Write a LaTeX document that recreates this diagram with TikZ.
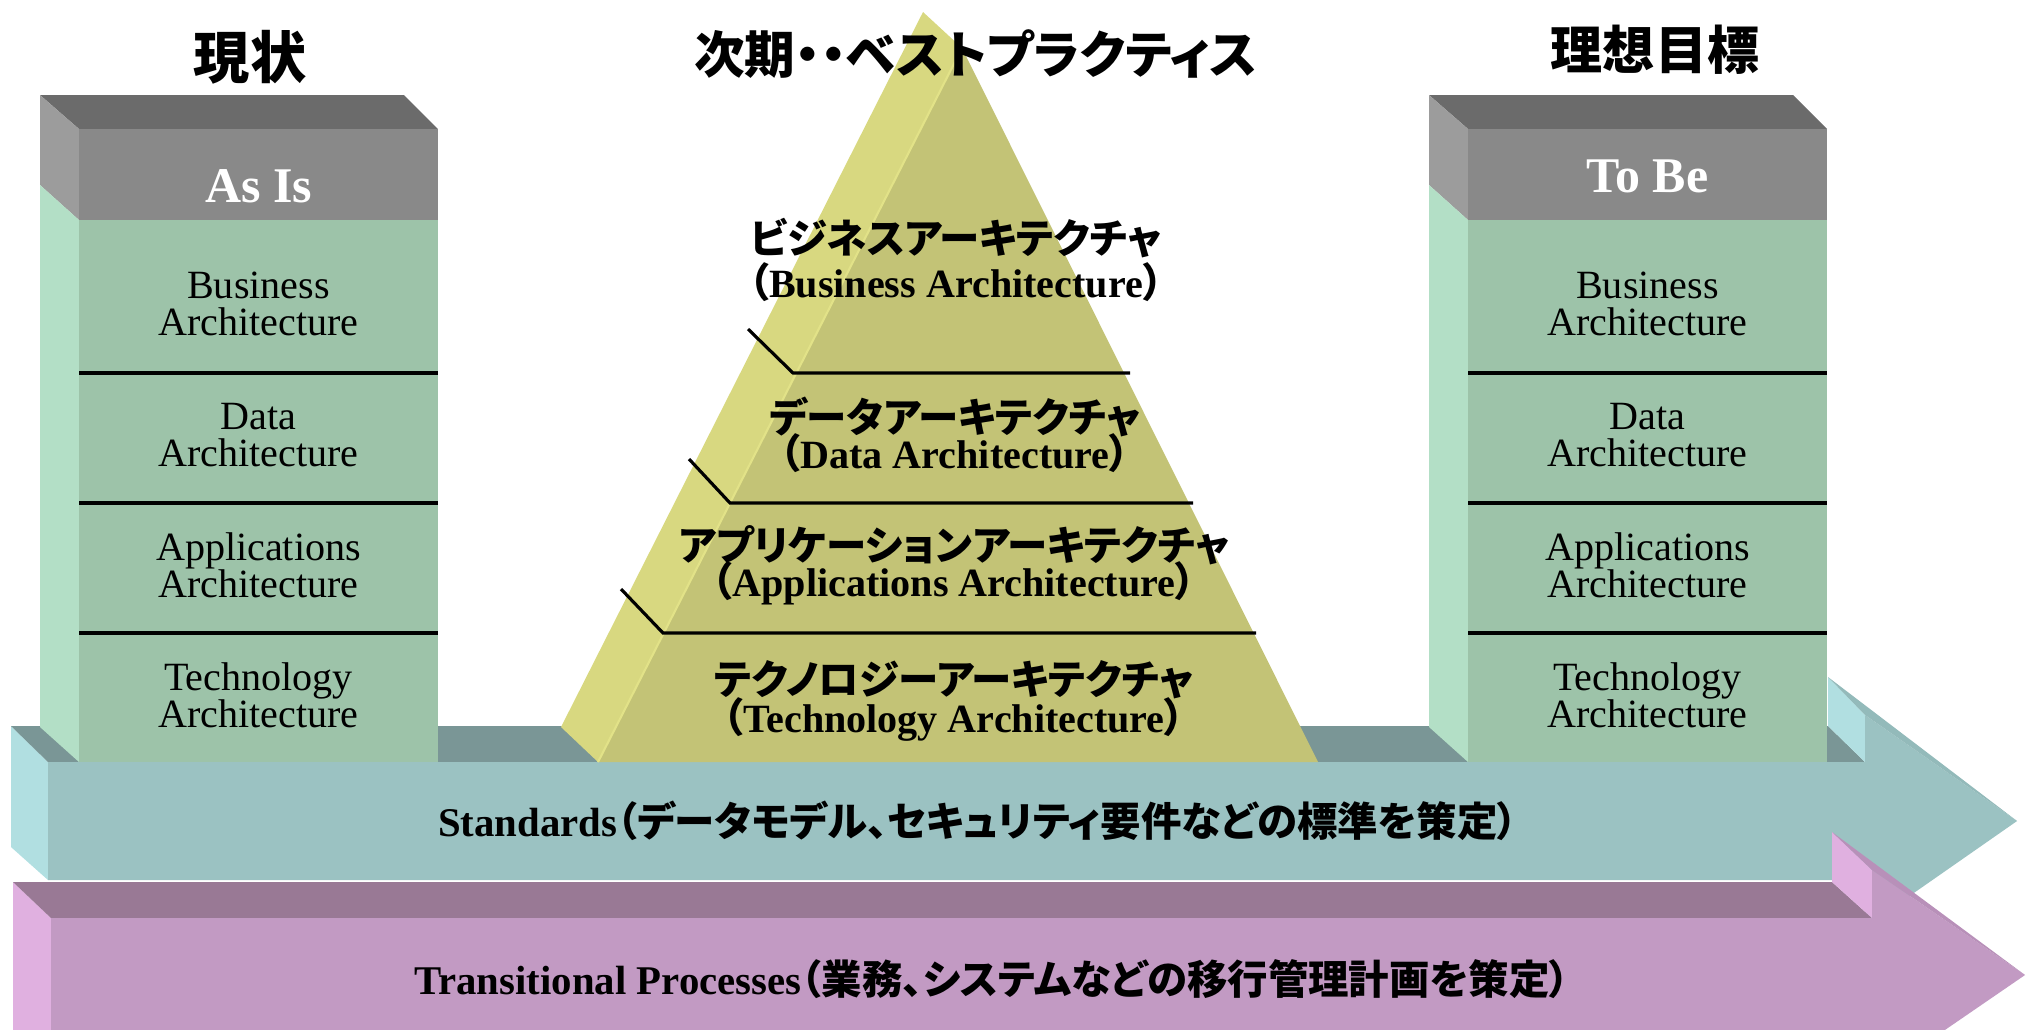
\documentclass[tikz,border=0pt]{standalone}
\usepackage{fontspec}
\setmainfont{Liberation Serif}
\newfontfamily\jp{Noto Sans CJK JP}
\newfontfamily\jpp[RawFeature=+palt]{Noto Sans CJK JP}
\newcommand\jpsize{11.5}
\newcommand\J[1]{{\jpp\bfseries\fontsize{\jpsize}{12}\selectfont #1}}
\newcommand\Jp[1]{{\jpp\bfseries\fontsize{\jpsize}{12}\selectfont #1}}
\newcommand\tightlines{\lineskiplimit -20pt\relax}
\definecolor{hdtop}{HTML}{6B6B6B}
\definecolor{hdfront}{HTML}{898989}
\definecolor{hdside}{HTML}{9C9C9C}
\definecolor{grfront}{HTML}{9DC3A9}
\definecolor{grside}{HTML}{B3DFC6}
\definecolor{pylight}{HTML}{D8D880}
\definecolor{pyfront}{HTML}{C3C376}
\definecolor{pyhl}{HTML}{E2E288}
\definecolor{sttop}{HTML}{7A9696}
\definecolor{stfront}{HTML}{9BC2C2}
\definecolor{stside}{HTML}{B1DFE1}
\definecolor{stband}{HTML}{93BABA}
\definecolor{putop}{HTML}{997995}
\definecolor{pufront}{HTML}{C29AC3}
\definecolor{puside}{HTML}{E0B0E0}
\definecolor{puband}{HTML}{B890B9}
\tikzset{
  divl/.style={line width=0.9pt, black},
  celltxt/.style={align=center, inner sep=0pt, font=\fontsize{11.4}{10.6}\selectfont},
  headtxt/.style={inner sep=0pt, text=white, font=\bfseries\fontsize{14.2}{16}\selectfont},
  pyblk/.style={align=center, inner sep=0pt, font={\bfseries\fontsize{11.4}{10.3}\selectfont\tightlines}},
  bartxt/.style={inner sep=0pt, font=\bfseries\fontsize{11.6}{12}\selectfont},
  titletxt/.style={inner sep=0pt}
}
\begin{document}
\begin{tikzpicture}[x=0.01cm, y=-0.01cm]
\useasboundingbox (0,0) rectangle (2034,1029);
\clip (0,0) rectangle (2034,1029);

% ---------- Standards bar ----------
\fill[stside] (11,726) -- (48,762) -- (48,880) -- (11,847) -- cycle;
\fill[sttop] (11,726) -- (1828,726) -- (1865,762) -- (48,762) -- cycle;
\fill[stside] (1828,677) -- (1865,715) -- (1865,762) -- (1828,726) -- cycle;
\fill[stfront] (48,762) -- (1865,762) -- (1865,715) -- (2017,821) -- (1865,927) -- (1865,880) -- (48,880) -- cycle;
\fill[stband] (1828,677) -- (2017,821) -- (1865,715) -- cycle;

% ---------- Transitional bar ----------
\fill[puside] (13,882) -- (51,918) -- (51,1040) -- (13,1040) -- cycle;
\fill[putop] (13,882) -- (1832,882) -- (1872,918) -- (51,918) -- cycle;
\fill[puside] (1832,832) -- (1872,870) -- (1872,918) -- (1832,882) -- cycle;
\fill[pufront] (51,918) -- (1872,918) -- (1872,870) -- (2025,975) -- (1872,1080) -- (51,1080) -- cycle;
\fill[puband] (1832,832) -- (2025,975) -- (1872,870) -- cycle;

% ---------- Pyramid ----------
\fill[pylight] (923,12) -- (561,727) -- (598,762) -- (962,48) -- cycle;
\fill[pyfront] (962,48) -- (598,762) -- (1318,762) -- cycle;
\draw[pyhl, line width=0.6pt] (962,48) -- (598,762);
\draw[divl] (748,329) -- (793,373) -- (1130,373);
\draw[divl] (689,459) -- (730,503) -- (1193,503);
\draw[divl] (621,589) -- (663,633) -- (1256,633);

\node[pyblk] (pb) at (956,260) {\J{ビジネスアーキテクチャ}\\[2.3pt]\Jp{（}Business Architecture\Jp{）}};
\node[pyblk] (pd) at (955,435) {\J{データアーキテクチャ}\\\Jp{（}Data Architecture\Jp{）}};
\node[pyblk] (pa) at (954,565) {\J{アプリケーションアーキテクチャ}\\\Jp{（}Applications Architecture\Jp{）}};
\node[pyblk] (pt) at (954,701) {\J{テクノロジーアーキテクチャ}\\[0.6pt]\Jp{（}Technology Architecture\Jp{）}};

% ---------- Columns ----------
\foreach \x/\n/\h/\hy in {79/L/As Is/186, 1468/R/To Be/176}{
  \fill[hdtop] (\x-39,95) -- (\x+325,95) -- (\x+359,129) -- (\x,129) -- cycle;
  \fill[hdside] (\x-39,95) -- (\x,129) -- (\x,220) -- (\x-39,185) -- cycle;
  \fill[hdfront] (\x,129) rectangle (\x+359,220);
  \fill[grside] (\x-39,185) -- (\x,220) -- (\x,762) -- (\x-39,727) -- cycle;
  \fill[grfront] (\x,220) rectangle (\x+359,762);
  \draw[divl] (\x,373) -- (\x+359,373);
  \draw[divl] (\x,503) -- (\x+359,503);
  \draw[divl] (\x,633) -- (\x+359,633);
  \node[headtxt] (h\n) at (\x+179.5,\hy) {\h};
  \node[celltxt] (b\n) at (\x+179.5,304) {Business\\Architecture};
  \node[celltxt] (d\n) at (\x+179.5,435) {Data\\Architecture};
  \node[celltxt] (a\n) at (\x+179.5,565) {Applications\\Architecture};
  \node[celltxt] (t\n) at (\x+179.5,695) {Technology\\Architecture};
}

% ---------- Bar texts ----------
\node[bartxt] (std) at (978,821) {Standards\Jp{（}\J{データモデル}\Jp{、}\J{セキュリティ要件などの標準を策定}\Jp{）}};
\node[bartxt] (trn) at (992,979) {Transitional Processes\Jp{（}\J{業務}\Jp{、}\J{システムなどの移行管理計画を策定}\Jp{）}};

% ---------- Titles ----------
\node[titletxt, font=\jp\bfseries\fontsize{16}{18}\selectfont] (ttl1) at (250,57) {現状};
\node[titletxt, font=\jpp\bfseries\fontsize{14.4}{16}\selectfont] (ttl2) at (976,54) {次期・・ベストプラクティス};
\node[titletxt, font=\jp\bfseries\fontsize{14.8}{16}\selectfont] (ttl3) at (1655,50) {理想目標};
\end{tikzpicture}
\end{document}
